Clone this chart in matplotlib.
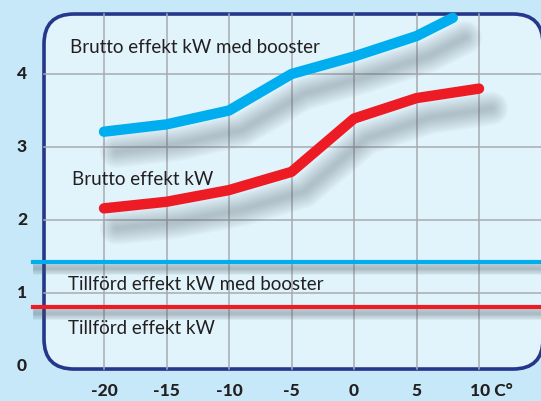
import numpy as np
import matplotlib.pyplot as plt
from matplotlib.patches import FancyBboxPatch

# data
temps = [-20, -15, -10, -5, 0, 5, 10]
booster_x = [-20, -15, -10, -5, 0, 5, 7.9]
booster_kw = [3.21, 3.31, 3.50, 4.00, 4.24, 4.52, 4.77]
brutto_kw = [2.16, 2.25, 2.41, 2.66, 3.39, 3.67, 3.80]
tillford_booster = 1.43
tillford = 0.81
xtick_labels = ['-20', '-15', '-10', '-5', '0', '5']
yticks = [0, 1, 2, 3, 4]

BLUE = '#00aeef'
RED = '#ed1c24'
NAVY = '#25378a'
INK = '#231f20'

plt.rcParams['font.family'] = ['Lato', 'DejaVu Sans']

fig = plt.figure(figsize=(5.41, 4.01), dpi=100)
fig.patch.set_facecolor('#c6e8f8')
ax = fig.add_axes([0, 0, 1, 1])
ax.set_xlim(-28.32, 14.96)
ax.set_ylim(-0.479, 5.014)
ax.axis('off')

# px per unit, used to keep rounded corners round
sx, sy = 12.5, 73.0
left, right, bottom, top = -24.8, 15.12, -0.041, 4.822
panel = FancyBboxPatch((left, bottom), right - left, top - bottom,
                       boxstyle='round,pad=0,rounding_size=2.4',
                       mutation_aspect=sx / sy, facecolor='#e1f3fb',
                       edgecolor=NAVY, linewidth=2.6, zorder=1)
ax.add_patch(panel)

# grid
for t in temps:
    ax.plot([t, t], [bottom, top], color='#a7abb0', lw=1.1, zorder=2)
for v in [1, 2, 3, 4]:
    ax.plot([left, right], [v, v], color='#a7abb0', lw=1.1, zorder=2)


def shadow(x, y, dx, dy, widths, alpha, cap='round'):
    x = np.asarray(x) + dx
    y = np.asarray(y) + dy
    for w in widths:
        ax.plot(x, y, color='#4f5a66', lw=w, alpha=alpha,
                solid_capstyle=cap, solid_joinstyle='round', zorder=3)


shadow(booster_x, booster_kw, 1.0, -0.27, np.linspace(3, 24, 10), 0.035)
shadow(temps, brutto_kw, 1.0, -0.27, np.linspace(3, 24, 10), 0.035)

hx = [-25.7, 14.96]
shadow(hx, [tillford_booster] * 2, 0, -0.085, np.linspace(2, 10, 8), 0.05, 'butt')
shadow(hx, [tillford] * 2, 0, -0.085, np.linspace(2, 10, 8), 0.05, 'butt')

ax.plot(booster_x, booster_kw, color=BLUE, lw=7.5, solid_capstyle='round',
        solid_joinstyle='round', zorder=4)
ax.plot(temps, brutto_kw, color=RED, lw=7.5, solid_capstyle='round',
        solid_joinstyle='round', zorder=4)
ax.plot(hx, [tillford_booster] * 2, color=BLUE, lw=3, zorder=4)
ax.plot(hx, [tillford] * 2, color=RED, lw=3, zorder=4)

# labels
fs = 13.5
ax.text(-22.72, 4.37, 'Brutto effekt kW med booster', fontsize=fs, color=INK,
        va='center', zorder=5)
ax.text(-22.56, 2.55, 'Brutto effekt kW', fontsize=fs, color=INK,
        va='center', zorder=5)
ax.text(-22.88, 1.12, 'Tillförd effekt kW med booster', fontsize=fs, color=INK,
        va='center', zorder=5)
ax.text(-22.88, 0.52, 'Tillförd effekt kW', fontsize=fs, color=INK,
        va='center', zorder=5)

for v in yticks:
    ax.text(-26.56, v, str(v), fontsize=12.5, fontweight='black', color=INK,
            ha='center', va='center')
for t, lab in zip(temps, xtick_labels):
    ax.text(t, -0.34, lab, fontsize=12.5, fontweight='black', color=INK,
            ha='center', va='center')
ax.text(9.3, -0.34, '10 C°', fontsize=12.5, fontweight='black', color=INK,
        ha='left', va='center')

fig.savefig('out.png', dpi=100, facecolor=fig.get_facecolor())
